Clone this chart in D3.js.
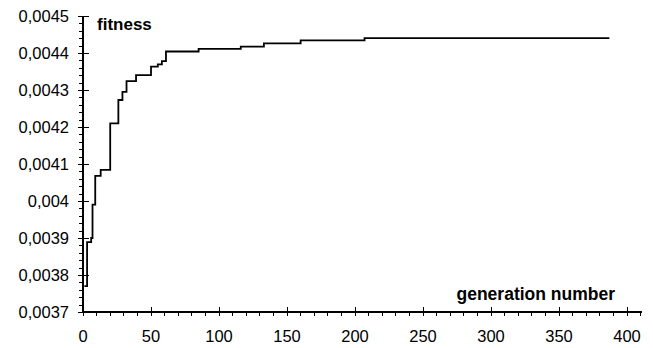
<!DOCTYPE html>
<html><head><meta charset="utf-8">
<script src="https://cdn.jsdelivr.net/npm/d3@7"></script>
<style>
html,body{margin:0;padding:0;background:#fff;}
svg{display:block;font-family:"Liberation Sans",Arial,sans-serif;}
</style></head>
<body>
<svg id="c" width="653" height="348"></svg>
<script>
// ---- data ----
const generations = [1, 3, 6, 7, 9, 13, 20, 26, 29, 32, 39, 50, 55, 58, 61, 85, 116, 133, 160, 207, 387];
const fitness = [0.00377, 0.003889, 0.0039, 0.00399, 0.004068, 0.004084, 0.00421, 0.004273, 0.004295, 0.004324,
                 0.00434, 0.004363, 0.004369, 0.004378, 0.004404, 0.004411, 0.004417, 0.004426, 0.004434, 0.00444, 0.00444];
const xTicks = [0, 50, 100, 150, 200, 250, 300, 350, 400];
const yTicks = [0.0037, 0.0038, 0.0039, 0.004, 0.0041, 0.0042, 0.0043, 0.0044, 0.0045];
const yTickLabels = ["0,0037", "0,0038", "0,0039", "0,004", "0,0041", "0,0042", "0,0043", "0,0044", "0,0045"];
const xTitle = "generation number";
const yTitle = "fitness";

// ---- chart ----
const svg = d3.select("#c");
const x = d3.scaleLinear().domain([0, 411]).range([83, 642]);
const y = d3.scaleLinear().domain([0.0037, 0.0045]).range([312, 16]);

const xMinor = d3.range(0, 411, 10);
const yMinor = d3.range(0, 41).map(i => 0.0037 + i * 0.00002);

const g = svg.append("g").attr("stroke", "#000").attr("shape-rendering", "crispEdges");
// axis lines
g.append("line").attr("x1", x(0)).attr("x2", x(411)).attr("y1", y(0.0037)).attr("y2", y(0.0037)).attr("stroke-width", 1.3);
g.append("line").attr("x1", x(0)).attr("x2", x(0)).attr("y1", y(0.0037)).attr("y2", y(0.0045)).attr("stroke-width", 1.3);
// x minor ticks
g.selectAll(".xm").data(xMinor).join("line")
  .attr("x1", d => x(d)).attr("x2", d => x(d))
  .attr("y1", y(0.0037)).attr("y2", y(0.0037) + 4).attr("stroke-width", 1);
// x major ticks
g.selectAll(".xM").data(xTicks).join("line")
  .attr("x1", d => x(d)).attr("x2", d => x(d))
  .attr("y1", y(0.0037) - 5).attr("y2", y(0.0037) + 4).attr("stroke-width", 1);
// y minor ticks
g.selectAll(".ym").data(yMinor).join("line")
  .attr("x1", x(0) - 4).attr("x2", x(0))
  .attr("y1", d => Math.round(y(d))).attr("y2", d => Math.round(y(d))).attr("stroke-width", 1);
// y major ticks
g.selectAll(".yM").data(yTicks).join("line")
  .attr("x1", x(0) - 5).attr("x2", x(0) + 6)
  .attr("y1", d => Math.round(y(d))).attr("y2", d => Math.round(y(d))).attr("stroke-width", 1);

// tick labels
svg.selectAll(".xl").data(xTicks).join("text")
  .attr("x", d => x(d)).attr("y", 342)
  .attr("text-anchor", "middle").attr("font-size", 16.5).attr("fill", "#000")
  .text(d => d);
svg.selectAll(".yl").data(yTicks).join("text")
  .attr("x", 69).attr("y", d => y(d) + 6)
  .attr("text-anchor", "end").attr("font-size", 16.5).attr("fill", "#000")
  .text((d, i) => yTickLabels[i]);

// titles
svg.append("text").attr("x", 97).attr("y", 30).attr("font-size", 17).attr("font-weight", "bold").text(yTitle);
svg.append("text").attr("x", 615).attr("y", 300).attr("text-anchor", "end")
  .attr("font-size", 17.5).attr("font-weight", "bold").text(xTitle);

// line
const pts = generations.map((gen, i) => [gen, fitness[i]]);
const line = d3.line().x(d => x(d[0])).y(d => y(d[1])).curve(d3.curveStepAfter);
svg.append("path").datum(pts).attr("d", line)
  .attr("fill", "none").attr("stroke", "#000").attr("stroke-width", 1.8).attr("stroke-linejoin", "miter");
</script>
</body></html>
